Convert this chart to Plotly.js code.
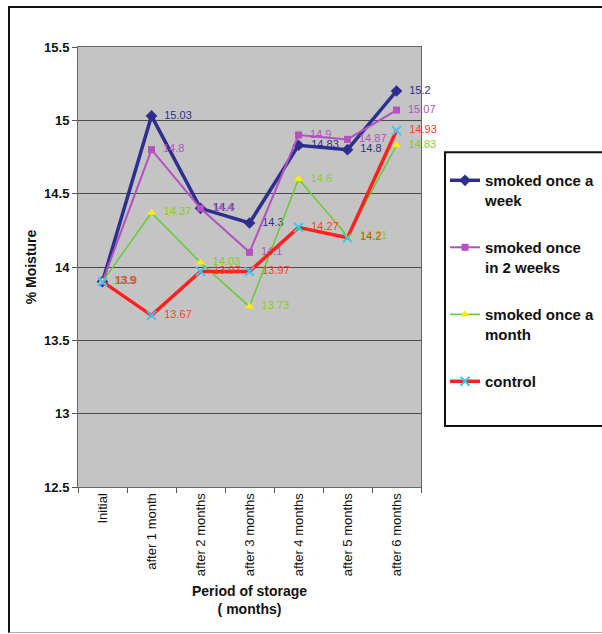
<!DOCTYPE html>
<html>
<head>
<meta charset="utf-8">
<script src="https://cdn.plot.ly/plotly-3.0.1.min.js"></script>
<style>
  html, body { margin: 0; padding: 0; background: #fff; }
  #wrap { position: relative; width: 602px; height: 634px; overflow: hidden; }
  #chart { width: 602px; height: 634px; }
  #frame { position: absolute; left: 8px; top: 6px; width: 620px; height: 624px;
           border-left: 2px solid #111; border-top: 2px solid #111; border-bottom: 1px solid #aaa;
           pointer-events: none; }
</style>
</head>
<body>
<div id="wrap"><div id="chart"></div><div id="frame"></div></div>
<script>
const categories = ["Initial", "after 1 month", "after 2 months", "after 3 months", "after 4 months", "after 5 months", "after 6 months"];
const weekly   = [13.9, 15.03, 14.4, 14.3, 14.83, 14.8, 15.2];
const biweekly = [13.9, 14.8, 14.4, 14.1, 14.9, 14.87, 15.07];
const monthly  = [13.9, 14.37, 14.03, 13.73, 14.6, 14.21, 14.83];
const control  = [13.9, 13.67, 13.97, 13.97, 14.27, 14.2, 14.93];
const seriesNames = ["smoked once a<br>week", "smoked once<br>in 2 weeks", "smoked once a<br>month", "control"];

const lbl = v => v.map(x => "\u00a0\u00a0" + x);
const lblFont = c => ({color: c, size: 11, family: "Liberation Sans, Arial"});

const traces = [
  {x: categories, y: weekly, name: seriesNames[0], mode: "lines+markers+text",
   line: {color: "#2E2E8F", width: 3.5}, marker: {symbol: "diamond", size: 9, color: "#2E2E8F"},
   text: lbl(weekly), textposition: "middle right", textfont: lblFont("#2E2E8F"),
   cliponaxis: false, legendgroup: "a"},
  {x: categories, y: biweekly, name: seriesNames[1], mode: "lines+markers+text",
   line: {color: "#B450C0", width: 2}, marker: {symbol: "square", size: 7, color: "#B450C0"},
   text: lbl(biweekly), textposition: "middle right", textfont: lblFont("#B450C0"),
   cliponaxis: false, legendgroup: "b"},
  {x: categories, y: monthly, name: seriesNames[2], mode: "lines+markers+text",
   line: {color: "#66CC33", width: 1.5}, marker: {symbol: "triangle-up", size: 8, color: "#FFEE00"},
   text: lbl(monthly), textposition: "middle right", textfont: lblFont("#88CC22"),
   cliponaxis: false, legendgroup: "c"},
  {x: categories, y: control, name: seriesNames[3], mode: "lines+markers+text",
   line: {color: "#FF2020", width: 3.5}, marker: {symbol: "x-thin-open", size: 9, color: "#33CCEE", line: {width: 2, color: "#33CCEE"}},
   text: lbl(control), textposition: "middle right", textfont: lblFont("#FF4020"),
   cliponaxis: false, legendgroup: "d"}
];

const layout = {
  width: 602, height: 634,
  margin: {l: 78, r: 181, t: 47, b: 147, autoexpand: false},
  paper_bgcolor: "#ffffff",
  plot_bgcolor: "#C4C4C4",
  font: {family: "Liberation Sans, Arial, sans-serif", color: "#111"},
  showlegend: true,
  legend: {
    x: 1.07, xanchor: "left", y: 0.734, yanchor: "top",
    bgcolor: "rgba(0,0,0,0)", borderwidth: 0,
    font: {size: 15, weight: "bold", color: "#111"},
    tracegroupgap: 25, itemwidth: 30, valign: "top"
  },
  shapes: [
    {type: "rect", xref: "paper", yref: "paper", x0: 1.07, x1: 1.56, y0: 0.1386, y1: 0.761,
     fillcolor: "#ffffff", line: {color: "#111", width: 2}, layer: "above"}
  ],
  xaxis: {
    type: "category", range: [-0.5, 6.5],
    tickangle: -90, tickfont: {size: 13, color: "#111"},
    ticks: "outside", ticklen: 5, tickcolor: "#555", tickson: "boundaries",
    showline: true, linecolor: "#666", linewidth: 1, mirror: true,
    showgrid: false,
    title: {text: "Period of storage<br>( months)", font: {size: 14, weight: "bold"}, standoff: 10}
  },
  yaxis: {
    range: [12.5, 15.5], dtick: 0.5, tick0: 12.5,
    tickfont: {size: 13, weight: "bold", color: "#111"},
    ticks: "outside", ticklen: 5, tickcolor: "#555",
    showline: true, linecolor: "#666", linewidth: 1, mirror: true,
    showgrid: true, gridcolor: "#4a4a4a", gridwidth: 1,
    zeroline: false,
    title: {text: "% Moisture", font: {size: 14, weight: "bold"}, standoff: 4}
  }
};

Plotly.newPlot("chart", traces, layout, {staticPlot: true});
</script>
</body>
</html>
